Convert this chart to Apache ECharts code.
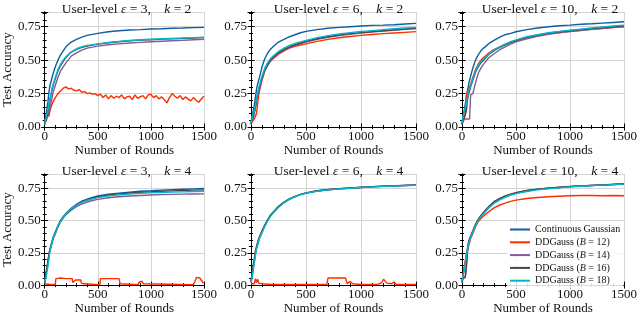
<!DOCTYPE html>
<html><head><meta charset="utf-8">
<script src="https://cdn.jsdelivr.net/npm/echarts@6/dist/echarts.min.js"></script>
<style>html,body{margin:0;padding:0;background:#fff}#c{width:640px;height:316px}</style>
</head><body><div id="c"></div>
<script>
// ---- data ----
const xs = [0,10,20,30,40,50,60,70,80,100,125,150,175,200,250,300,350,400,450,500,600,700,800,900,1000,1100,1200,1300,1400,1500];
const seriesNames = ['Continuous Gaussian','DDGauss (B = 12)','DDGauss (B = 14)','DDGauss (B = 16)','DDGauss (B = 18)'];
const panelEps = [3, 6, 10, 3, 6, 10];
const panelK = [2, 2, 2, 4, 4, 4];
const xTicks = [0, 500, 1000, 1500];
const yTicks = [0.00, 0.25, 0.50, 0.75];

// Panel 1: eps=3, k=2
const p1Blue   = [0.02,0.08,0.13,0.18,0.26,0.31,0.34,0.37,0.40,0.45,0.50,0.54,0.57,0.60,0.635,0.655,0.672,0.685,0.693,0.70,0.712,0.72,0.725,0.728,0.733,0.735,0.738,0.74,0.743,0.745];
const p1Purple = [0.02,0.04,0.06,0.07,0.10,0.14,0.18,0.22,0.26,0.31,0.37,0.42,0.45,0.48,0.53,0.555,0.575,0.59,0.597,0.605,0.615,0.622,0.628,0.633,0.637,0.641,0.645,0.648,0.652,0.655];
const p1Gray   = [0.02,0.05,0.08,0.10,0.15,0.20,0.24,0.28,0.31,0.36,0.42,0.46,0.49,0.52,0.56,0.58,0.595,0.605,0.612,0.62,0.63,0.638,0.645,0.65,0.653,0.657,0.66,0.662,0.665,0.668];
const p1Cyan   = [0.02,0.06,0.09,0.12,0.17,0.21,0.25,0.29,0.32,0.37,0.43,0.47,0.50,0.525,0.56,0.585,0.60,0.61,0.615,0.622,0.632,0.64,0.647,0.652,0.656,0.66,0.663,0.666,0.668,0.672];
const p1RedX = [0,10,20,30,40,50,60,70,80,100,125,150,175,200,225,250,275,300,325,350,375,400,425,450,475,500,525,550,575,600,625,650,675,700,725,750,775,800,825,850,875,900,925,950,975,1000,1025,1050,1075,1100,1125,1150,1175,1200,1225,1250,1275,1300,1325,1350,1375,1400,1425,1450,1475,1500];
const p1RedY = [0.05,0.07,0.06,0.10,0.08,0.12,0.15,0.17,0.19,0.22,0.25,0.27,0.29,0.30,0.285,0.29,0.275,0.27,0.28,0.26,0.265,0.25,0.255,0.245,0.25,0.235,0.245,0.22,0.24,0.21,0.235,0.215,0.23,0.22,0.24,0.21,0.225,0.23,0.205,0.24,0.215,0.225,0.235,0.21,0.24,0.245,0.22,0.235,0.21,0.225,0.205,0.18,0.22,0.25,0.23,0.215,0.235,0.205,0.225,0.21,0.195,0.22,0.2,0.185,0.21,0.23];

// Panel 2: eps=6, k=2
const p2Blue   = [0.03,0.08,0.12,0.16,0.22,0.28,0.32,0.35,0.38,0.45,0.51,0.55,0.58,0.60,0.635,0.655,0.675,0.69,0.705,0.715,0.728,0.738,0.745,0.75,0.755,0.76,0.762,0.765,0.77,0.775];
const p2Red    = [0.02,0.04,0.05,0.06,0.07,0.10,0.17,0.24,0.28,0.35,0.42,0.46,0.49,0.51,0.545,0.57,0.59,0.603,0.613,0.622,0.64,0.655,0.667,0.677,0.685,0.692,0.698,0.703,0.708,0.713];
const p2Purple = [0.02,0.05,0.07,0.10,0.14,0.19,0.23,0.27,0.30,0.36,0.42,0.46,0.49,0.515,0.55,0.575,0.595,0.61,0.623,0.635,0.655,0.67,0.683,0.693,0.702,0.71,0.717,0.723,0.73,0.735];
const p2Gray   = [0.02,0.05,0.08,0.11,0.15,0.20,0.24,0.28,0.31,0.37,0.43,0.47,0.50,0.52,0.555,0.58,0.60,0.615,0.628,0.64,0.66,0.675,0.688,0.698,0.706,0.713,0.72,0.727,0.733,0.74];
const p2Cyan   = [0.03,0.07,0.10,0.12,0.16,0.21,0.25,0.29,0.32,0.38,0.44,0.48,0.51,0.53,0.565,0.59,0.61,0.625,0.637,0.648,0.668,0.683,0.696,0.706,0.714,0.721,0.728,0.735,0.74,0.745];

// Panel 3: eps=10, k=2
const p3Blue   = [0.03,0.08,0.12,0.17,0.22,0.27,0.31,0.35,0.38,0.44,0.50,0.54,0.57,0.59,0.625,0.65,0.672,0.69,0.70,0.712,0.728,0.74,0.75,0.757,0.762,0.768,0.772,0.777,0.782,0.787];
const p3Red    = [0.02,0.04,0.06,0.10,0.24,0.25,0.28,0.30,0.32,0.37,0.43,0.47,0.50,0.52,0.555,0.58,0.60,0.618,0.633,0.645,0.667,0.683,0.697,0.707,0.715,0.723,0.73,0.737,0.743,0.75];
const p3Purple = [0.02,0.05,0.06,0.06,0.06,0.06,0.06,0.06,0.24,0.25,0.33,0.40,0.44,0.47,0.52,0.55,0.578,0.60,0.62,0.636,0.66,0.678,0.693,0.704,0.714,0.722,0.73,0.738,0.745,0.752];
const p3Gray   = [0.02,0.05,0.07,0.09,0.12,0.20,0.24,0.27,0.30,0.35,0.41,0.45,0.48,0.50,0.545,0.573,0.596,0.615,0.633,0.648,0.672,0.688,0.702,0.712,0.72,0.728,0.736,0.744,0.75,0.757];
const p3Cyan   = [0.03,0.08,0.12,0.14,0.18,0.22,0.26,0.29,0.31,0.36,0.42,0.46,0.49,0.51,0.55,0.578,0.60,0.62,0.638,0.652,0.675,0.69,0.705,0.715,0.724,0.732,0.74,0.748,0.755,0.762];

// Panel 4: eps=3, k=4
const p4Blue   = [0.02,0.08,0.13,0.18,0.24,0.28,0.31,0.34,0.37,0.41,0.46,0.50,0.53,0.555,0.595,0.625,0.65,0.665,0.678,0.69,0.703,0.712,0.72,0.726,0.73,0.735,0.739,0.742,0.745,0.748];
const p4RedX = [0,50,100,106,150,200,260,266,280,290,340,345,370,380,500,520,525,700,711,720,880,886,900,915,931,940,1400,1415,1430,1460,1476,1490,1500];
const p4RedY = [0.01,0.005,0.005,0.05,0.055,0.05,0.05,0.02,0.015,0.04,0.04,0.015,0.01,0.003,0.003,0.003,0.05,0.05,0.01,0.003,0.003,0.02,0.035,0.03,0.01,0.003,0.003,0.03,0.06,0.055,0.05,0.02,0.015];
const p4Purple = [0.02,0.07,0.12,0.17,0.23,0.27,0.30,0.33,0.36,0.40,0.45,0.49,0.52,0.545,0.58,0.607,0.628,0.643,0.655,0.664,0.676,0.684,0.69,0.694,0.697,0.70,0.702,0.704,0.705,0.706];
const p4Gray   = [0.02,0.07,0.12,0.17,0.23,0.27,0.30,0.33,0.36,0.40,0.455,0.495,0.525,0.55,0.59,0.62,0.645,0.66,0.673,0.683,0.697,0.706,0.713,0.718,0.722,0.726,0.729,0.732,0.735,0.737];
const p4Cyan   = [0.02,0.05,0.09,0.14,0.20,0.26,0.30,0.33,0.36,0.40,0.455,0.495,0.525,0.55,0.59,0.618,0.64,0.655,0.667,0.677,0.69,0.698,0.705,0.71,0.714,0.717,0.72,0.722,0.724,0.726];

// Panel 5: eps=6, k=4
const p5Blue   = [0.02,0.08,0.14,0.19,0.25,0.29,0.32,0.35,0.37,0.41,0.46,0.50,0.535,0.56,0.605,0.64,0.665,0.685,0.70,0.712,0.728,0.738,0.745,0.75,0.755,0.76,0.764,0.768,0.771,0.774];
const p5RedX = [0,30,40,50,60,70,80,120,200,400,600,690,700,860,875,880,900,910,925,935,1000,1150,1190,1205,1220,1235,1250,1280,1300,1320,1340,1400,1500];
const p5RedY = [0.01,0.01,0.05,0.02,0.045,0.015,0.01,0.008,0.005,0.005,0.005,0.005,0.055,0.055,0.01,0.005,0.03,0.035,0.01,0.005,0.005,0.005,0.02,0.045,0.04,0.015,0.02,0.01,0.025,0.005,0.005,0.005,0.005];
const p5Purple = [0.02,0.07,0.13,0.18,0.24,0.285,0.315,0.345,0.37,0.41,0.458,0.498,0.533,0.56,0.605,0.64,0.665,0.685,0.70,0.712,0.728,0.738,0.746,0.751,0.756,0.761,0.765,0.768,0.771,0.774];
const p5Gray   = [0.03,0.09,0.15,0.20,0.26,0.30,0.33,0.36,0.38,0.42,0.465,0.505,0.54,0.565,0.61,0.643,0.668,0.687,0.702,0.714,0.73,0.74,0.747,0.752,0.757,0.762,0.766,0.769,0.772,0.775];
const p5Cyan   = [0.02,0.06,0.12,0.17,0.23,0.28,0.31,0.34,0.37,0.405,0.455,0.495,0.53,0.558,0.603,0.638,0.664,0.684,0.70,0.711,0.727,0.737,0.745,0.75,0.755,0.76,0.764,0.767,0.77,0.773];

// Panel 6: eps=10, k=4
const p6Blue   = [0.03,0.08,0.13,0.18,0.24,0.28,0.32,0.35,0.37,0.41,0.46,0.50,0.53,0.555,0.60,0.64,0.665,0.685,0.70,0.713,0.73,0.742,0.75,0.756,0.762,0.767,0.771,0.775,0.779,0.783];
const p6Red    = [0.03,0.08,0.13,0.18,0.23,0.27,0.30,0.33,0.36,0.40,0.45,0.49,0.515,0.535,0.57,0.60,0.62,0.635,0.648,0.658,0.67,0.678,0.684,0.688,0.692,0.693,0.694,0.692,0.693,0.692];
const p6Purple = [0.02,0.05,0.06,0.06,0.12,0.25,0.32,0.35,0.37,0.41,0.465,0.505,0.535,0.56,0.605,0.643,0.668,0.687,0.70,0.713,0.73,0.741,0.75,0.756,0.762,0.767,0.771,0.775,0.779,0.783];
const p6Gray   = [0.02,0.06,0.06,0.06,0.15,0.26,0.33,0.36,0.38,0.42,0.47,0.51,0.54,0.565,0.61,0.648,0.672,0.69,0.704,0.716,0.732,0.743,0.751,0.757,0.763,0.768,0.772,0.776,0.78,0.784];
const p6Cyan   = [0.03,0.07,0.11,0.16,0.22,0.27,0.31,0.34,0.37,0.41,0.46,0.50,0.53,0.555,0.60,0.635,0.66,0.68,0.696,0.708,0.725,0.737,0.746,0.753,0.76,0.765,0.77,0.774,0.778,0.782];

// ---- assembly ----
const colors = ['#0C5DA5','#FF2C00','#845B97','#474747','#00B8CC'];
const panels = [
  [[xs,p1Blue],[p1RedX,p1RedY],[xs,p1Purple],[xs,p1Gray],[xs,p1Cyan]],
  [[xs,p2Blue],[xs,p2Red],[xs,p2Purple],[xs,p2Gray],[xs,p2Cyan]],
  [[xs,p3Blue],[xs,p3Red],[xs,p3Purple],[xs,p3Gray],[xs,p3Cyan]],
  [[xs,p4Blue],[p4RedX,p4RedY],[xs,p4Purple],[xs,p4Gray],[xs,p4Cyan]],
  [[xs,p5Blue],[p5RedX,p5RedY],[xs,p5Purple],[xs,p5Gray],[xs,p5Cyan]],
  [[xs,p6Blue],[xs,p6Red],[xs,p6Purple],[xs,p6Gray],[xs,p6Cyan]]
];
const FONT = 'Liberation Serif';
const lefts = [39, 251, 462];
const widths = [165, 165, 166];
const tops = [12, 174];
const heights = [115, 114];
const YMAX = 0.86;

const grids = [], xAxes = [], yAxes = [], series = [], titles = [];
for (let i = 0; i < 6; i++) {
  const col = i % 3, row = Math.floor(i / 3);
  grids.push({left: lefts[col], top: tops[row], width: widths[col], height: heights[row]});
  const axLine = {show: true, lineStyle: {color: '#000', width: 1}};
  xAxes.push({
    type: 'value', gridIndex: i, min: xTicks[0], max: xTicks[xTicks.length-1], interval: 500, position: 'bottom',
    axisLine: axLine, axisTick: {inside: true, length: 3.5, lineStyle: {color: '#000'}},
    minorTick: {show: true, splitNumber: 5, length: 2, lineStyle: {color: '#000'}},
    splitLine: {show: true, lineStyle: {color: '#d4d4d4', width: 1}},
    axisLabel: {fontFamily: FONT, fontSize: 13, color: '#111', margin: 3, formatter: v => String(v)},
    name: 'Number of Rounds', nameLocation: 'middle', nameGap: 13,
    nameTextStyle: {fontFamily: FONT, fontSize: 13, color: '#111'}
  });
  xAxes.push({
    type: 'value', gridIndex: i, min: 0, max: 1500, interval: 500, position: 'top',
    axisLine: axLine, axisTick: {inside: true, length: 3.5, lineStyle: {color: '#000'}},
    minorTick: {show: true, splitNumber: 5, length: 2, lineStyle: {color: '#000'}},
    splitLine: {show: false}, axisLabel: {show: false}
  });
  yAxes.push({
    type: 'value', gridIndex: i, min: yTicks[0], max: YMAX, interval: 0.25, position: 'left',
    axisLine: axLine, axisTick: {inside: true, length: 3.5, lineStyle: {color: '#000'}},
    minorTick: {show: true, splitNumber: 5, length: 2, lineStyle: {color: '#000'}},
    splitLine: {show: true, lineStyle: {color: '#d4d4d4', width: 1}},
    axisLabel: {fontFamily: FONT, fontSize: 13, color: '#111', margin: 4, showMaxLabel: false,
      formatter: v => v.toFixed(2)},
    name: col === 0 ? 'Test Accuracy' : '', nameLocation: 'middle', nameGap: 27,
    nameTextStyle: {fontFamily: FONT, fontSize: 13, color: '#111'}
  });
  yAxes.push({
    type: 'value', gridIndex: i, min: 0, max: YMAX, interval: 0.25, position: 'right',
    axisLine: axLine, axisTick: {inside: true, length: 3.5, lineStyle: {color: '#000'}},
    minorTick: {show: true, splitNumber: 5, length: 2, lineStyle: {color: '#000'}},
    splitLine: {show: false}, axisLabel: {show: false, showMaxLabel: false}
  });
  titles.push({
    text: 'User-level {i|ε} = ' + panelEps[i] + ',    {i|k} = ' + panelK[i],
    left: lefts[col] + widths[col] / 2, top: tops[row] - 15, textAlign: 'center',
    textStyle: {fontFamily: FONT, fontSize: 13.5, fontWeight: 'normal', color: '#111',
      rich: {i: {fontFamily: FONT, fontSize: 13.5, fontStyle: 'italic', color: '#111'}}}
  });
  panels[i].forEach((pair, s) => {
    const [px, py] = pair;
    series.push({
      name: seriesNames[s], type: 'line', xAxisIndex: 2 * i, yAxisIndex: 2 * i,
      data: px.map((x, j) => [x, py[j]]), showSymbol: false, symbol: 'none',
      lineStyle: {width: 1.4, color: colors[s]}, itemStyle: {color: colors[s]},
      z: 2 + s, animation: false
    });
  });
}

const chart = echarts.init(document.getElementById('c'), null, {renderer: 'canvas'});
chart.setOption({
  animation: false,
  backgroundColor: '#fff',
  title: titles,
  grid: grids, xAxis: xAxes, yAxis: yAxes, series: series,
  legend: {
    data: seriesNames, orient: 'vertical', left: 507, top: 222,
    icon: 'rect', itemWidth: 20, itemHeight: 2, itemGap: 1.8,
    backgroundColor: 'rgba(255,255,255,0.85)', padding: [2, 3, 2, 3],
    textStyle: {fontFamily: FONT, fontSize: 10, color: '#111', lineHeight: 11,
      rich: {i: {fontFamily: FONT, fontSize: 10, fontStyle: 'italic', color: '#111'}}},
    formatter: n => n.replace('(B', '({i|B}')
  }
});
</script></body></html>
